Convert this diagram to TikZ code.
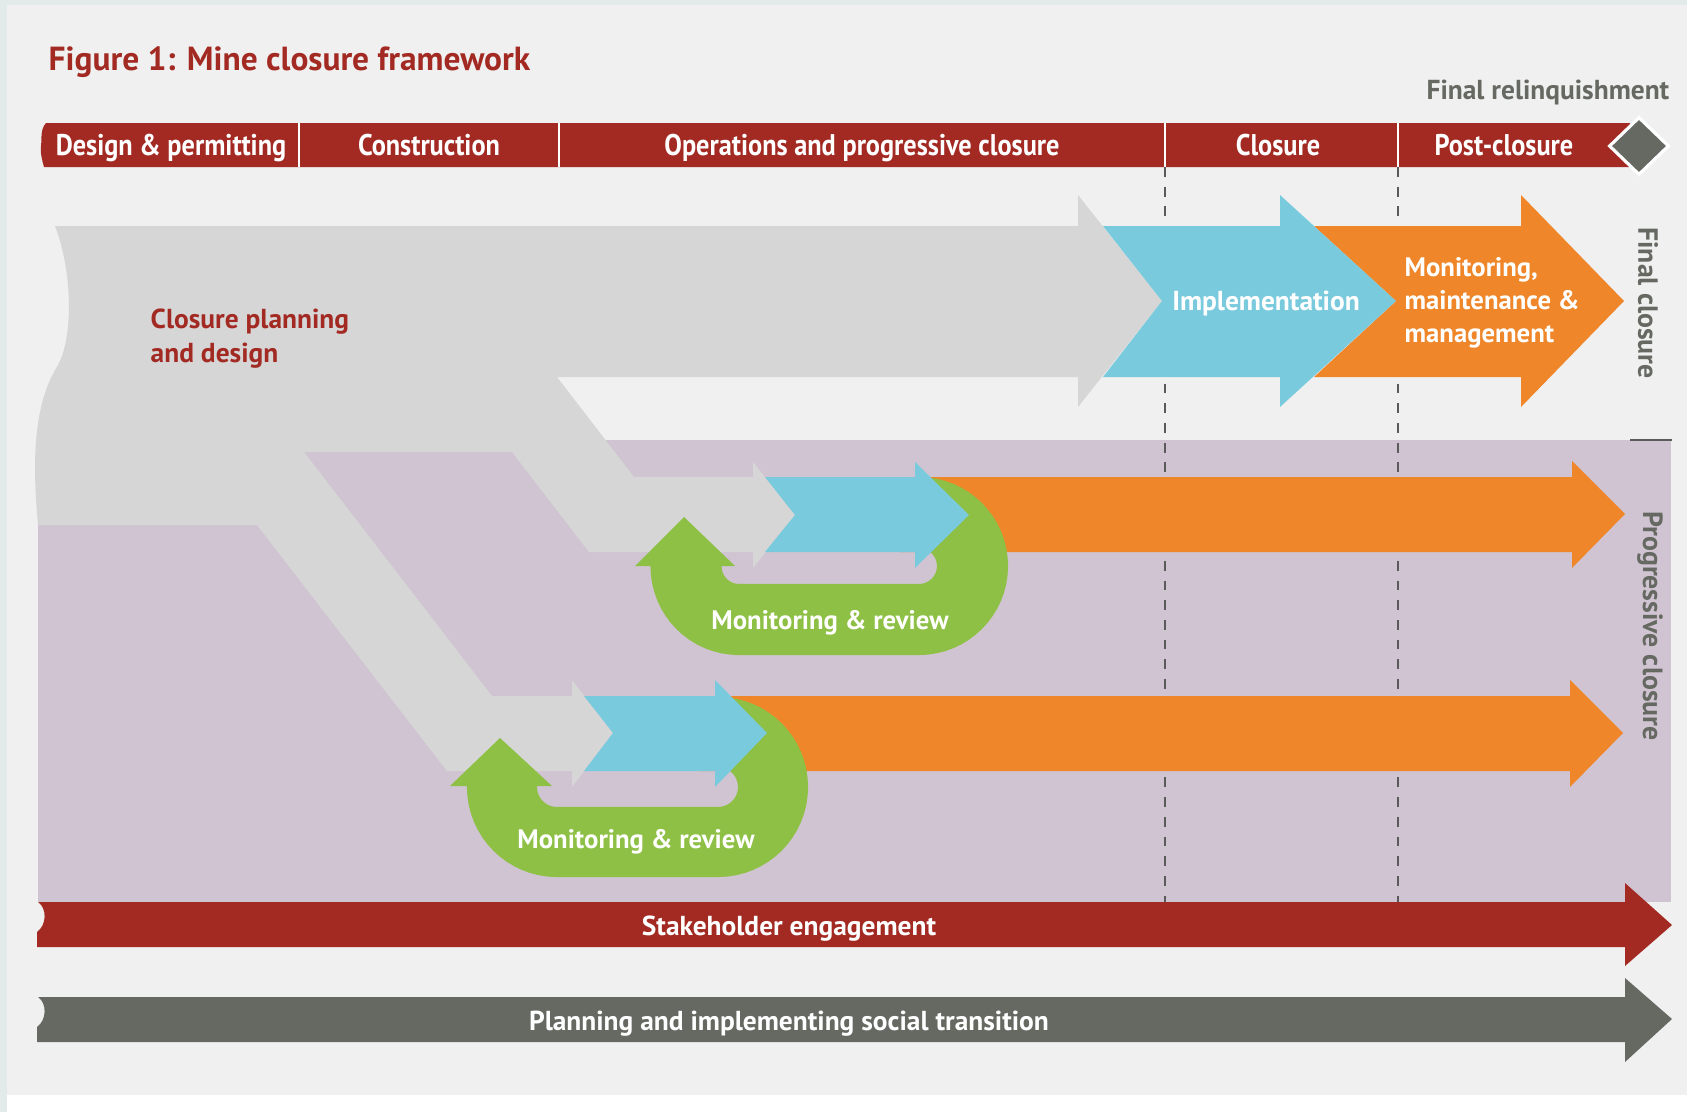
\documentclass[tikz,border=0pt]{standalone}
\usepackage{fontspec}
\setmainfont{PT Sans}
\newfontfamily\narrowfont{PT Sans}[FakeStretch=0.88]
\usetikzlibrary{positioning,shapes.geometric}

\definecolor{panelgrey}{HTML}{F0F0F0}
\definecolor{framegrey}{HTML}{E3EAEA}
\definecolor{minered}{HTML}{A22A23}
\definecolor{plangrey}{HTML}{D6D6D6}
\definecolor{implblue}{HTML}{7ACADD}
\definecolor{postorange}{HTML}{EF8629}
\definecolor{reviewgreen}{HTML}{8DC044}
\definecolor{progpurple}{HTML}{D0C4D2}
\definecolor{darkgrey}{HTML}{656961}
\definecolor{guidegrey}{HTML}{5A5A5A}

\begin{document}
\begin{tikzpicture}[
    x=0.01cm, y=-0.01cm,
    phase/.style={text=white, font=\narrowfont\bfseries\fontsize{8.5}{9}\selectfont, inner sep=0pt, anchor=base},
    arrowlabel/.style={text=white, font=\bfseries\fontsize{7.8}{9.4}\selectfont, inner sep=0pt},
    bandlabel/.style={text=white, font=\bfseries\fontsize{7.8}{9}\selectfont, inner sep=0pt},
    sidelabel/.style={text=darkgrey, font=\bfseries\fontsize{7.9}{9}\selectfont, inner sep=0pt, rotate=-90},
    divider/.style={draw=white, line width=0.6pt},
    guide/.style={draw=guidegrey, line width=0.55pt, dash pattern=on 2.8pt off 2.8pt},
    review/.style={draw=reviewgreen, line width=0.71cm}
]
\useasboundingbox (0,0) rectangle (1687,1112);

% Fond
\fill[white] (0,0) rectangle (1687,1112);
\fill[framegrey] (0,0) rectangle (7,1112);
\fill[framegrey] (0,0) rectangle (1687,5);
\fill[panelgrey] (7,5) rectangle (1687,1095);

% Zone de fermeture progressive
\fill[progpurple] (38,440) rectangle (1671,902);
\draw[guidegrey, line width=0.6pt] (1630,440) -- (1672,440);

% Lignes de phase
\draw[guide] (1165,167) -- (1165,902);
\draw[guide] (1398,167) -- (1398,902);

% Fleche grise : planification
\fill[plangrey] (55,226) -- (1078,226) -- (1078,195) -- (1162,301) -- (1078,407) -- (1078,377)
  -- (557,377) -- (634,477) -- (753,477) -- (753,462) -- (795,515) -- (753,568) -- (753,552)
  -- (589,552) -- (512,452) -- (304,452) -- (492,696) -- (572,696) -- (572,680) -- (613,733)
  -- (572,787) -- (572,771) -- (447,771) -- (257,525) -- (38,525)
  .. controls (31,450) and (36,400) .. (58,365) .. controls (74,335) and (72,270) .. (55,226) -- cycle;

% Fleches orange
\fill[postorange] (1314,226) -- (1521,226) -- (1521,195) -- (1624,301) -- (1521,407) -- (1521,377) -- (1314,377) -- (1396,301) -- cycle;
\fill[postorange] (900,477) -- (1572,477) -- (1572,461) -- (1625,514) -- (1572,568) -- (1572,552) -- (900,552) -- cycle;
\fill[postorange] (700,696) -- (1570,696) -- (1570,680) -- (1623,733) -- (1570,787) -- (1570,771) -- (700,771) -- cycle;

% Fleche bleue : mise en oeuvre
\fill[implblue] (1103,226) -- (1280,226) -- (1280,195) -- (1396,301) -- (1280,407) -- (1280,377) -- (1103,377) -- (1162,301) -- cycle;

% Boucles vertes
\draw[review] (686,565) -- (686,566) .. controls (686,595.5) and (709.5,619.5) .. (739,619.5) -- (919,619.5)
  .. controls (948.5,619.5) and (972.5,595.5) .. (972.5,566) .. controls (972.5,536.5) and (948.5,512.5) .. (919,512.5);
\fill[reviewgreen] (635,566) -- (684,517) -- (735,566) -- cycle;
\draw[review, line width=0.70cm] (502,785) -- (502,787) .. controls (502,817.4) and (526.6,842) .. (557,842) -- (718,842)
  .. controls (748.4,842) and (773,817.4) .. (773,787) .. controls (773,756.6) and (748.4,732) .. (718,732);
\fill[reviewgreen] (450,786) -- (500,738) -- (552,786) -- cycle;

% Fleches bleues progressives
\fill[implblue] (765,477) -- (915,477) -- (915,462) -- (969,515) -- (915,568) -- (915,552) -- (765,552) -- (795,515) -- cycle;
\fill[implblue] (584,696) -- (715,696) -- (715,680) -- (767,733) -- (715,787) -- (715,771) -- (584,771) -- (613,733) -- cycle;

% Barre des phases
\fill[minered] (46,123) -- (1630,123) -- (1630,167) -- (44,167)
  .. controls (42,160) and (40,152) .. (41,146) .. controls (42,138) and (40,130) .. (46,123) -- cycle;
\draw[divider] (299,123) -- (299,167);
\draw[divider] (559,123) -- (559,167);
\draw[divider] (1165,123) -- (1165,167);
\draw[divider] (1398,123) -- (1398,167);
\node[diamond, fill=darkgrey, draw=white, line width=0.9pt, inner sep=0pt, minimum width=0.6cm, minimum height=0.58cm] (relinq) at (1639,146) {};

% Barres du bas
\fill[minered] (38,902) .. controls (47,908) and (47,925) .. (37,932) -- (37,947) -- (1625,947) -- (1625,966)
  -- (1672,925) -- (1625,883) -- (1625,902) -- cycle;
\fill[darkgrey] (38,997) .. controls (47,1003) and (47,1020) .. (37,1027) -- (37,1042) -- (1625,1042) -- (1625,1062)
  -- (1672,1019) -- (1625,978) -- (1625,997) -- cycle;

% Textes
\node[anchor=west, inner sep=0pt, text=minered, font=\bfseries\fontsize{9.5}{11}\selectfont] (title) at (48,62) {Figure 1: Mine closure framework};
\node[anchor=east, inner sep=0pt, text=darkgrey, font=\bfseries\fontsize{7.8}{9}\selectfont] (relinqlabel) at (1670,92) {Final relinquishment};

\node[phase] (design) at (171,156) {Design \& permitting};
\node[phase] (construction) at (429,156) {Construction};
\node[phase] (operations) at (862,156) {Operations and progressive closure};
\node[phase] (closure) at (1278,156) {Closure};
\node[phase] (postclosure) at (1504,156) {Post-closure};

\node[anchor=west, align=left, inner sep=0pt, text=minered, font=\bfseries\fontsize{7.8}{9.7}\selectfont] (planning) at (150,339) {Closure planning\\and design};
\node[arrowlabel] (implementation) at (1266,303) {Implementation};
\node[arrowlabel, anchor=west, align=left, font=\bfseries\fontsize{7.6}{9.4}\selectfont] (monitoring) at (1404,303) {Monitoring,\\maintenance \&\\management};

\node[bandlabel, font=\bfseries\fontsize{7.6}{9}\selectfont] (review1) at (830,623) {Monitoring \& review};
\node[bandlabel, font=\bfseries\fontsize{7.6}{9}\selectfont] (review2) at (636,842) {Monitoring \& review};

\node[sidelabel] (finalclosure) at (1648,303) {Final closure};
\node[sidelabel] (progclosure) at (1650,626) {Progressive closure};

\node[bandlabel] (stakeholder) at (789,929) {Stakeholder engagement};
\node[bandlabel] (social) at (789,1024) {Planning and implementing social transition};

\end{tikzpicture}
\end{document}
